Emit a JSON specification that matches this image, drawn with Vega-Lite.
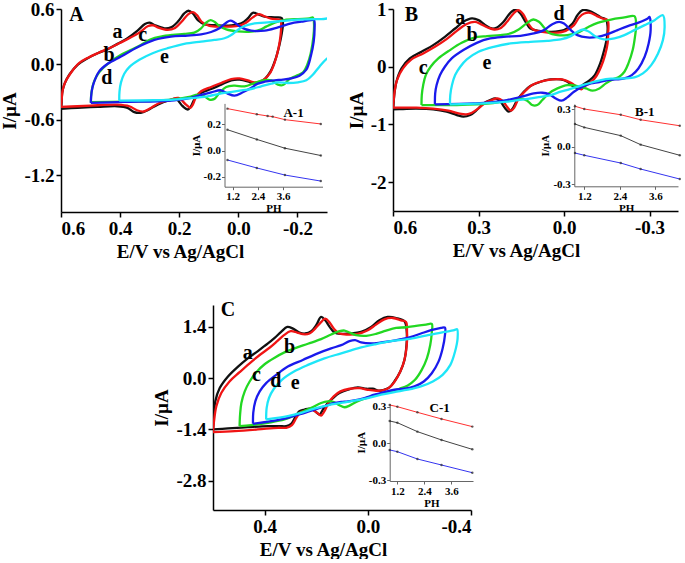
{
"$schema": "https://vega.github.io/schema/vega-lite/v6.json",
"padding": 0,
"config": {
 "font": "Liberation Serif",
 "view": {"stroke": null},
 "axis": {"grid": false, "labelFont": "Liberation Serif", "titleFont": "Liberation Serif", "labelFontWeight": "bold", "titleFontWeight": "bold", "labelFontSize": 19, "titleFontSize": 19, "labelColor": "#000", "titleColor": "#000", "domainColor": "#000", "tickColor": "#000", "domainWidth": 1.5, "tickWidth": 1.5, "tickSize": 5, "labelPadding": 2, "titlePadding": 4}
},
"datasets": {
 "cvA": [
  {"s":"a","o":1,"E":0.6,"I":-0.482},{"s":"a","o":2,"E":0.598,"I":-0.418},{"s":"a","o":3,"E":0.596,"I":-0.31},{"s":"a","o":4,"E":0.589,"I":-0.22},{"s":"a","o":5,"E":0.572,"I":-0.112},{"s":"a","o":6,"E":0.544,"I":-0.005},{"s":"a","o":7,"E":0.51,"I":0.067},{"s":"a","o":8,"E":0.476,"I":0.121},{"s":"a","o":9,"E":0.442,"I":0.164},{"s":"a","o":10,"E":0.409,"I":0.222},{"s":"a","o":11,"E":0.375,"I":0.283},{"s":"a","o":12,"E":0.341,"I":0.365},{"s":"a","o":13,"E":0.316,"I":0.437},{"s":"a","o":14,"E":0.301,"I":0.452},{"s":"a","o":15,"E":0.284,"I":0.427},{"s":"a","o":16,"E":0.25,"I":0.391},{"s":"a","o":17,"E":0.228,"I":0.401},{"s":"a","o":18,"E":0.205,"I":0.462},{"s":"a","o":19,"E":0.183,"I":0.552},{"s":"a","o":20,"E":0.169,"I":0.581},{"s":"a","o":21,"E":0.154,"I":0.552},{"s":"a","o":22,"E":0.137,"I":0.48},{"s":"a","o":23,"E":0.115,"I":0.437},{"s":"a","o":24,"E":0.07,"I":0.423},{"s":"a","o":25,"E":0.024,"I":0.423},{"s":"a","o":26,"E":-0.01,"I":0.444},{"s":"a","o":27,"E":-0.032,"I":0.498},{"s":"a","o":28,"E":-0.049,"I":0.559},{"s":"a","o":29,"E":-0.066,"I":0.545},{"s":"a","o":30,"E":-0.089,"I":0.516},{"s":"a","o":31,"E":-0.123,"I":0.509},{"s":"a","o":32,"E":-0.147,"I":0.502},{"s":"a","o":33,"E":-0.151,"I":0.444},{"s":"a","o":34,"E":-0.147,"I":0.337},{"s":"a","o":35,"E":-0.139,"I":0.211},{"s":"a","o":36,"E":-0.125,"I":0.049},{"s":"a","o":37,"E":-0.109,"I":-0.076},{"s":"a","o":38,"E":-0.089,"I":-0.159},{"s":"a","o":39,"E":-0.055,"I":-0.209},{"s":"a","o":40,"E":-0.032,"I":-0.184},{"s":"a","o":41,"E":-0.004,"I":-0.166},{"s":"a","o":42,"E":0.024,"I":-0.173},{"s":"a","o":43,"E":0.058,"I":-0.22},{"s":"a","o":44,"E":0.092,"I":-0.267},{"s":"a","o":45,"E":0.126,"I":-0.31},{"s":"a","o":46,"E":0.149,"I":-0.382},{"s":"a","o":47,"E":0.16,"I":-0.454},{"s":"a","o":48,"E":0.171,"I":-0.489},{"s":"a","o":49,"E":0.188,"I":-0.454},{"s":"a","o":50,"E":0.211,"I":-0.374},{"s":"a","o":51,"E":0.233,"I":-0.389},{"s":"a","o":52,"E":0.273,"I":-0.436},{"s":"a","o":53,"E":0.307,"I":-0.497},{"s":"a","o":54,"E":0.33,"I":-0.525},{"s":"a","o":55,"E":0.352,"I":-0.518},{"s":"a","o":56,"E":0.375,"I":-0.471},{"s":"a","o":57,"E":0.409,"I":-0.454},{"s":"a","o":58,"E":0.476,"I":-0.461},{"s":"a","o":59,"E":0.544,"I":-0.471},{"s":"a","o":60,"E":0.6,"I":-0.482},
  {"s":"b","o":1,"E":0.6,"I":-0.461},{"s":"b","o":2,"E":0.598,"I":-0.4},{"s":"b","o":3,"E":0.595,"I":-0.292},{"s":"b","o":4,"E":0.587,"I":-0.202},{"s":"b","o":5,"E":0.567,"I":-0.094},{"s":"b","o":6,"E":0.539,"I":0.013},{"s":"b","o":7,"E":0.505,"I":0.078},{"s":"b","o":8,"E":0.471,"I":0.128},{"s":"b","o":9,"E":0.437,"I":0.175},{"s":"b","o":10,"E":0.403,"I":0.229},{"s":"b","o":11,"E":0.369,"I":0.283},{"s":"b","o":12,"E":0.335,"I":0.344},{"s":"b","o":13,"E":0.305,"I":0.416},{"s":"b","o":14,"E":0.288,"I":0.423},{"s":"b","o":15,"E":0.273,"I":0.401},{"s":"b","o":16,"E":0.239,"I":0.373},{"s":"b","o":17,"E":0.214,"I":0.394},{"s":"b","o":18,"E":0.192,"I":0.462},{"s":"b","o":19,"E":0.169,"I":0.545},{"s":"b","o":20,"E":0.154,"I":0.567},{"s":"b","o":21,"E":0.14,"I":0.534},{"s":"b","o":22,"E":0.124,"I":0.462},{"s":"b","o":23,"E":0.098,"I":0.416},{"s":"b","o":24,"E":0.047,"I":0.409},{"s":"b","o":25,"E":0.002,"I":0.416},{"s":"b","o":26,"E":-0.026,"I":0.452},{"s":"b","o":27,"E":-0.049,"I":0.509},{"s":"b","o":28,"E":-0.069,"I":0.545},{"s":"b","o":29,"E":-0.086,"I":0.524},{"s":"b","o":30,"E":-0.111,"I":0.495},{"s":"b","o":31,"E":-0.143,"I":0.48},{"s":"b","o":32,"E":-0.145,"I":0.444},{"s":"b","o":33,"E":-0.143,"I":0.319},{"s":"b","o":34,"E":-0.136,"I":0.175},{"s":"b","o":35,"E":-0.123,"I":0.021},{"s":"b","o":36,"E":-0.106,"I":-0.101},{"s":"b","o":37,"E":-0.083,"I":-0.173},{"s":"b","o":38,"E":-0.055,"I":-0.195},{"s":"b","o":39,"E":-0.032,"I":-0.173},{"s":"b","o":40,"E":-0.004,"I":-0.152},{"s":"b","o":41,"E":0.024,"I":-0.159},{"s":"b","o":42,"E":0.058,"I":-0.202},{"s":"b","o":43,"E":0.092,"I":-0.245},{"s":"b","o":44,"E":0.126,"I":-0.292},{"s":"b","o":45,"E":0.143,"I":-0.353},{"s":"b","o":46,"E":0.154,"I":-0.436},{"s":"b","o":47,"E":0.162,"I":-0.471},{"s":"b","o":48,"E":0.177,"I":-0.436},{"s":"b","o":49,"E":0.203,"I":-0.364},{"s":"b","o":50,"E":0.228,"I":-0.382},{"s":"b","o":51,"E":0.267,"I":-0.418},{"s":"b","o":52,"E":0.301,"I":-0.482},{"s":"b","o":53,"E":0.32,"I":-0.511},{"s":"b","o":54,"E":0.343,"I":-0.497},{"s":"b","o":55,"E":0.369,"I":-0.454},{"s":"b","o":56,"E":0.409,"I":-0.436},{"s":"b","o":57,"E":0.476,"I":-0.443},{"s":"b","o":58,"E":0.544,"I":-0.454},{"s":"b","o":59,"E":0.6,"I":-0.461},
  {"s":"c","o":1,"E":0.499,"I":-0.41},{"s":"c","o":2,"E":0.497,"I":-0.303},{"s":"c","o":3,"E":0.488,"I":-0.184},{"s":"c","o":4,"E":0.471,"I":-0.087},{"s":"c","o":5,"E":0.442,"I":0.006},{"s":"c","o":6,"E":0.397,"I":0.103},{"s":"c","o":7,"E":0.363,"I":0.157},{"s":"c","o":8,"E":0.33,"I":0.211},{"s":"c","o":9,"E":0.296,"I":0.272},{"s":"c","o":10,"E":0.262,"I":0.301},{"s":"c","o":11,"E":0.222,"I":0.319},{"s":"c","o":12,"E":0.183,"I":0.33},{"s":"c","o":13,"E":0.149,"I":0.344},{"s":"c","o":14,"E":0.126,"I":0.391},{"s":"c","o":15,"E":0.109,"I":0.452},{"s":"c","o":16,"E":0.094,"I":0.48},{"s":"c","o":17,"E":0.081,"I":0.462},{"s":"c","o":18,"E":0.064,"I":0.416},{"s":"c","o":19,"E":0.041,"I":0.38},{"s":"c","o":20,"E":0.002,"I":0.358},{"s":"c","o":21,"E":-0.043,"I":0.355},{"s":"c","o":22,"E":-0.072,"I":0.373},{"s":"c","o":23,"E":-0.094,"I":0.409},{"s":"c","o":24,"E":-0.123,"I":0.452},{"s":"c","o":25,"E":-0.156,"I":0.48},{"s":"c","o":26,"E":-0.202,"I":0.491},{"s":"c","o":27,"E":-0.241,"I":0.498},{"s":"c","o":28,"E":-0.252,"I":0.509},{"s":"c","o":29,"E":-0.256,"I":0.444},{"s":"c","o":30,"E":-0.254,"I":0.301},{"s":"c","o":31,"E":-0.245,"I":0.121},{"s":"c","o":32,"E":-0.233,"I":-0.005},{"s":"c","o":33,"E":-0.219,"I":-0.087},{"s":"c","o":34,"E":-0.196,"I":-0.123},{"s":"c","o":35,"E":-0.173,"I":-0.159},{"s":"c","o":36,"E":-0.151,"I":-0.224},{"s":"c","o":37,"E":-0.134,"I":-0.22},{"s":"c","o":38,"E":-0.111,"I":-0.173},{"s":"c","o":39,"E":-0.083,"I":-0.173},{"s":"c","o":40,"E":-0.055,"I":-0.202},{"s":"c","o":41,"E":-0.021,"I":-0.238},{"s":"c","o":42,"E":0.013,"I":-0.231},{"s":"c","o":43,"E":0.041,"I":-0.245},{"s":"c","o":44,"E":0.064,"I":-0.31},{"s":"c","o":45,"E":0.081,"I":-0.374},{"s":"c","o":46,"E":0.098,"I":-0.382},{"s":"c","o":47,"E":0.115,"I":-0.346},{"s":"c","o":48,"E":0.137,"I":-0.328},{"s":"c","o":49,"E":0.166,"I":-0.353},{"s":"c","o":50,"E":0.205,"I":-0.374},{"s":"c","o":51,"E":0.273,"I":-0.392},{"s":"c","o":52,"E":0.386,"I":-0.403},{"s":"c","o":53,"E":0.499,"I":-0.41},
  {"s":"d","o":1,"E":0.499,"I":-0.418},{"s":"d","o":2,"E":0.498,"I":-0.346},{"s":"d","o":3,"E":0.494,"I":-0.256},{"s":"d","o":4,"E":0.485,"I":-0.166},{"s":"d","o":5,"E":0.471,"I":-0.076},{"s":"d","o":6,"E":0.442,"I":0.006},{"s":"d","o":7,"E":0.397,"I":0.085},{"s":"d","o":8,"E":0.341,"I":0.186},{"s":"d","o":9,"E":0.284,"I":0.265},{"s":"d","o":10,"E":0.228,"I":0.301},{"s":"d","o":11,"E":0.171,"I":0.312},{"s":"d","o":12,"E":0.126,"I":0.326},{"s":"d","o":13,"E":0.092,"I":0.351},{"s":"d","o":14,"E":0.064,"I":0.391},{"s":"d","o":15,"E":0.041,"I":0.452},{"s":"d","o":16,"E":0.027,"I":0.473},{"s":"d","o":17,"E":0.013,"I":0.455},{"s":"d","o":18,"E":-0.01,"I":0.401},{"s":"d","o":19,"E":-0.043,"I":0.365},{"s":"d","o":20,"E":-0.089,"I":0.365},{"s":"d","o":21,"E":-0.134,"I":0.401},{"s":"d","o":22,"E":-0.179,"I":0.444},{"s":"d","o":23,"E":-0.213,"I":0.462},{"s":"d","o":24,"E":-0.247,"I":0.48},{"s":"d","o":25,"E":-0.256,"I":0.48},{"s":"d","o":26,"E":-0.258,"I":0.391},{"s":"d","o":27,"E":-0.255,"I":0.247},{"s":"d","o":28,"E":-0.245,"I":0.085},{"s":"d","o":29,"E":-0.23,"I":-0.058},{"s":"d","o":30,"E":-0.207,"I":-0.123},{"s":"d","o":31,"E":-0.179,"I":-0.152},{"s":"d","o":32,"E":-0.151,"I":-0.166},{"s":"d","o":33,"E":-0.123,"I":-0.173},{"s":"d","o":34,"E":-0.089,"I":-0.188},{"s":"d","o":35,"E":-0.066,"I":-0.209},{"s":"d","o":36,"E":-0.043,"I":-0.256},{"s":"d","o":37,"E":-0.015,"I":-0.303},{"s":"d","o":38,"E":0.013,"I":-0.339},{"s":"d","o":39,"E":0.036,"I":-0.317},{"s":"d","o":40,"E":0.058,"I":-0.281},{"s":"d","o":41,"E":0.092,"I":-0.303},{"s":"d","o":42,"E":0.126,"I":-0.331},{"s":"d","o":43,"E":0.16,"I":-0.364},{"s":"d","o":44,"E":0.217,"I":-0.389},{"s":"d","o":45,"E":0.273,"I":-0.4},{"s":"d","o":46,"E":0.386,"I":-0.407},{"s":"d","o":47,"E":0.499,"I":-0.418},
  {"s":"e","o":1,"E":0.403,"I":-0.392},{"s":"e","o":2,"E":0.402,"I":-0.292},{"s":"e","o":3,"E":0.397,"I":-0.195},{"s":"e","o":4,"E":0.386,"I":-0.101},{"s":"e","o":5,"E":0.369,"I":-0.03},{"s":"e","o":6,"E":0.335,"I":0.049},{"s":"e","o":7,"E":0.29,"I":0.121},{"s":"e","o":8,"E":0.239,"I":0.175},{"s":"e","o":9,"E":0.183,"I":0.222},{"s":"e","o":10,"E":0.126,"I":0.247},{"s":"e","o":11,"E":0.081,"I":0.265},{"s":"e","o":12,"E":0.047,"I":0.283},{"s":"e","o":13,"E":0.024,"I":0.319},{"s":"e","o":14,"E":0.002,"I":0.373},{"s":"e","o":15,"E":-0.021,"I":0.416},{"s":"e","o":16,"E":-0.055,"I":0.444},{"s":"e","o":17,"E":-0.089,"I":0.452},{"s":"e","o":18,"E":-0.123,"I":0.462},{"s":"e","o":19,"E":-0.179,"I":0.48},{"s":"e","o":20,"E":-0.224,"I":0.488},{"s":"e","o":21,"E":-0.281,"I":0.491},{"s":"e","o":22,"E":-0.337,"I":0.495},{"s":"e","o":23,"E":-0.362,"I":0.373},{"s":"e","o":24,"E":-0.354,"I":0.211},{"s":"e","o":25,"E":-0.326,"I":0.121},{"s":"e","o":26,"E":-0.298,"I":0.057},{"s":"e","o":27,"E":-0.275,"I":-0.022},{"s":"e","o":28,"E":-0.252,"I":-0.112},{"s":"e","o":29,"E":-0.23,"I":-0.173},{"s":"e","o":30,"E":-0.202,"I":-0.195},{"s":"e","o":31,"E":-0.168,"I":-0.202},{"s":"e","o":32,"E":-0.134,"I":-0.195},{"s":"e","o":33,"E":-0.111,"I":-0.209},{"s":"e","o":34,"E":-0.077,"I":-0.238},{"s":"e","o":35,"E":-0.043,"I":-0.267},{"s":"e","o":36,"E":-0.01,"I":-0.281},{"s":"e","o":37,"E":0.047,"I":-0.31},{"s":"e","o":38,"E":0.104,"I":-0.346},{"s":"e","o":39,"E":0.16,"I":-0.367},{"s":"e","o":40,"E":0.217,"I":-0.382},{"s":"e","o":41,"E":0.284,"I":-0.389},{"s":"e","o":42,"E":0.403,"I":-0.392}
 ],
 "cvB": [
  {"s":"a","o":1,"E":0.6,"I":-0.739},{"s":"a","o":2,"E":0.598,"I":-0.635},{"s":"a","o":3,"E":0.595,"I":-0.462},{"s":"a","o":4,"E":0.588,"I":-0.26},{"s":"a","o":5,"E":0.57,"I":-0.03},{"s":"a","o":6,"E":0.541,"I":0.143},{"s":"a","o":7,"E":0.5,"I":0.259},{"s":"a","o":8,"E":0.459,"I":0.374},{"s":"a","o":9,"E":0.418,"I":0.518},{"s":"a","o":10,"E":0.382,"I":0.662},{"s":"a","o":11,"E":0.353,"I":0.778},{"s":"a","o":12,"E":0.323,"I":0.836},{"s":"a","o":13,"E":0.3,"I":0.807},{"s":"a","o":14,"E":0.276,"I":0.72},{"s":"a","o":15,"E":0.253,"I":0.662},{"s":"a","o":16,"E":0.235,"I":0.68},{"s":"a","o":17,"E":0.212,"I":0.778},{"s":"a","o":18,"E":0.188,"I":0.934},{"s":"a","o":19,"E":0.17,"I":0.991},{"s":"a","o":20,"E":0.153,"I":0.922},{"s":"a","o":21,"E":0.135,"I":0.778},{"s":"a","o":22,"E":0.118,"I":0.662},{"s":"a","o":23,"E":0.088,"I":0.622},{"s":"a","o":24,"E":0.047,"I":0.605},{"s":"a","o":25,"E":0.0,"I":0.634},{"s":"a","o":26,"E":-0.03,"I":0.749},{"s":"a","o":27,"E":-0.047,"I":0.893},{"s":"a","o":28,"E":-0.065,"I":0.98},{"s":"a","o":29,"E":-0.088,"I":0.968},{"s":"a","o":30,"E":-0.112,"I":0.91},{"s":"a","o":31,"E":-0.13,"I":0.853},{"s":"a","o":32,"E":-0.147,"I":0.818},{"s":"a","o":33,"E":-0.153,"I":0.691},{"s":"a","o":34,"E":-0.151,"I":0.518},{"s":"a","o":35,"E":-0.141,"I":0.288},{"s":"a","o":36,"E":-0.127,"I":0.057},{"s":"a","o":37,"E":-0.108,"I":-0.145},{"s":"a","o":38,"E":-0.088,"I":-0.243},{"s":"a","o":39,"E":-0.065,"I":-0.318},{"s":"a","o":40,"E":-0.053,"I":-0.376},{"s":"a","o":41,"E":-0.035,"I":-0.347},{"s":"a","o":42,"E":-0.012,"I":-0.26},{"s":"a","o":43,"E":0.012,"I":-0.22},{"s":"a","o":44,"E":0.047,"I":-0.22},{"s":"a","o":45,"E":0.082,"I":-0.26},{"s":"a","o":46,"E":0.118,"I":-0.335},{"s":"a","o":47,"E":0.141,"I":-0.433},{"s":"a","o":48,"E":0.164,"I":-0.577},{"s":"a","o":49,"E":0.182,"I":-0.739},{"s":"a","o":50,"E":0.194,"I":-0.779},{"s":"a","o":51,"E":0.206,"I":-0.722},{"s":"a","o":52,"E":0.223,"I":-0.606},{"s":"a","o":53,"E":0.241,"I":-0.549},{"s":"a","o":54,"E":0.259,"I":-0.577},{"s":"a","o":55,"E":0.282,"I":-0.635},{"s":"a","o":56,"E":0.306,"I":-0.75},{"s":"a","o":57,"E":0.329,"I":-0.837},{"s":"a","o":58,"E":0.353,"I":-0.866},{"s":"a","o":59,"E":0.376,"I":-0.837},{"s":"a","o":60,"E":0.412,"I":-0.779},{"s":"a","o":61,"E":0.459,"I":-0.739},{"s":"a","o":62,"E":0.518,"I":-0.727},{"s":"a","o":63,"E":0.565,"I":-0.733},{"s":"a","o":64,"E":0.6,"I":-0.739},
  {"s":"b","o":1,"E":0.6,"I":-0.71},{"s":"b","o":2,"E":0.598,"I":-0.606},{"s":"b","o":3,"E":0.594,"I":-0.416},{"s":"b","o":4,"E":0.586,"I":-0.231},{"s":"b","o":5,"E":0.565,"I":-0.03},{"s":"b","o":6,"E":0.535,"I":0.126},{"s":"b","o":7,"E":0.494,"I":0.23},{"s":"b","o":8,"E":0.453,"I":0.345},{"s":"b","o":9,"E":0.412,"I":0.478},{"s":"b","o":10,"E":0.376,"I":0.622},{"s":"b","o":11,"E":0.343,"I":0.737},{"s":"b","o":12,"E":0.312,"I":0.778},{"s":"b","o":13,"E":0.292,"I":0.737},{"s":"b","o":14,"E":0.268,"I":0.68},{"s":"b","o":15,"E":0.245,"I":0.645},{"s":"b","o":16,"E":0.223,"I":0.668},{"s":"b","o":17,"E":0.2,"I":0.778},{"s":"b","o":18,"E":0.179,"I":0.91},{"s":"b","o":19,"E":0.161,"I":0.98},{"s":"b","o":20,"E":0.143,"I":0.91},{"s":"b","o":21,"E":0.127,"I":0.76},{"s":"b","o":22,"E":0.108,"I":0.645},{"s":"b","o":23,"E":0.076,"I":0.605},{"s":"b","o":24,"E":0.035,"I":0.587},{"s":"b","o":25,"E":-0.006,"I":0.622},{"s":"b","o":26,"E":-0.035,"I":0.72},{"s":"b","o":27,"E":-0.053,"I":0.853},{"s":"b","o":28,"E":-0.071,"I":0.922},{"s":"b","o":29,"E":-0.092,"I":0.934},{"s":"b","o":30,"E":-0.116,"I":0.876},{"s":"b","o":31,"E":-0.135,"I":0.836},{"s":"b","o":32,"E":-0.153,"I":0.807},{"s":"b","o":33,"E":-0.155,"I":0.576},{"s":"b","o":34,"E":-0.153,"I":0.403},{"s":"b","o":35,"E":-0.144,"I":0.201},{"s":"b","o":36,"E":-0.13,"I":-0.001},{"s":"b","o":37,"E":-0.112,"I":-0.174},{"s":"b","o":38,"E":-0.092,"I":-0.278},{"s":"b","o":39,"E":-0.074,"I":-0.335},{"s":"b","o":40,"E":-0.061,"I":-0.393},{"s":"b","o":41,"E":-0.047,"I":-0.358},{"s":"b","o":42,"E":-0.024,"I":-0.278},{"s":"b","o":43,"E":0.006,"I":-0.22},{"s":"b","o":44,"E":0.041,"I":-0.22},{"s":"b","o":45,"E":0.076,"I":-0.249},{"s":"b","o":46,"E":0.112,"I":-0.318},{"s":"b","o":47,"E":0.135,"I":-0.416},{"s":"b","o":48,"E":0.159,"I":-0.549},{"s":"b","o":49,"E":0.174,"I":-0.704},{"s":"b","o":50,"E":0.186,"I":-0.762},{"s":"b","o":51,"E":0.2,"I":-0.693},{"s":"b","o":52,"E":0.216,"I":-0.589},{"s":"b","o":53,"E":0.233,"I":-0.549},{"s":"b","o":54,"E":0.253,"I":-0.577},{"s":"b","o":55,"E":0.276,"I":-0.624},{"s":"b","o":56,"E":0.3,"I":-0.722},{"s":"b","o":57,"E":0.323,"I":-0.797},{"s":"b","o":58,"E":0.343,"I":-0.825},{"s":"b","o":59,"E":0.37,"I":-0.808},{"s":"b","o":60,"E":0.406,"I":-0.762},{"s":"b","o":61,"E":0.459,"I":-0.727},{"s":"b","o":62,"E":0.518,"I":-0.71},{"s":"b","o":63,"E":0.565,"I":-0.71},{"s":"b","o":64,"E":0.6,"I":-0.71},
  {"s":"c","o":1,"E":0.5,"I":-0.664},{"s":"c","o":2,"E":0.499,"I":-0.491},{"s":"c","o":3,"E":0.494,"I":-0.318},{"s":"c","o":4,"E":0.485,"I":-0.145},{"s":"c","o":5,"E":0.468,"I":-0.001},{"s":"c","o":6,"E":0.441,"I":0.143},{"s":"c","o":7,"E":0.4,"I":0.288},{"s":"c","o":8,"E":0.359,"I":0.414},{"s":"c","o":9,"E":0.317,"I":0.501},{"s":"c","o":10,"E":0.27,"I":0.53},{"s":"c","o":11,"E":0.223,"I":0.547},{"s":"c","o":12,"E":0.188,"I":0.576},{"s":"c","o":13,"E":0.159,"I":0.645},{"s":"c","o":14,"E":0.129,"I":0.76},{"s":"c","o":15,"E":0.108,"I":0.818},{"s":"c","o":16,"E":0.088,"I":0.778},{"s":"c","o":17,"E":0.07,"I":0.68},{"s":"c","o":18,"E":0.053,"I":0.587},{"s":"c","o":19,"E":0.023,"I":0.547},{"s":"c","o":20,"E":-0.012,"I":0.547},{"s":"c","o":21,"E":-0.047,"I":0.587},{"s":"c","o":22,"E":-0.082,"I":0.68},{"s":"c","o":23,"E":-0.118,"I":0.76},{"s":"c","o":24,"E":-0.165,"I":0.818},{"s":"c","o":25,"E":-0.212,"I":0.853},{"s":"c","o":26,"E":-0.247,"I":0.876},{"s":"c","o":27,"E":-0.253,"I":0.72},{"s":"c","o":28,"E":-0.249,"I":0.518},{"s":"c","o":29,"E":-0.241,"I":0.288},{"s":"c","o":30,"E":-0.226,"I":0.057},{"s":"c","o":31,"E":-0.212,"I":-0.087},{"s":"c","o":32,"E":-0.194,"I":-0.174},{"s":"c","o":33,"E":-0.171,"I":-0.22},{"s":"c","o":34,"E":-0.147,"I":-0.289},{"s":"c","o":35,"E":-0.124,"I":-0.376},{"s":"c","o":36,"E":-0.1,"I":-0.416},{"s":"c","o":37,"E":-0.077,"I":-0.376},{"s":"c","o":38,"E":-0.047,"I":-0.335},{"s":"c","o":39,"E":-0.012,"I":-0.318},{"s":"c","o":40,"E":0.023,"I":-0.376},{"s":"c","o":41,"E":0.053,"I":-0.462},{"s":"c","o":42,"E":0.076,"I":-0.577},{"s":"c","o":43,"E":0.094,"I":-0.664},{"s":"c","o":44,"E":0.112,"I":-0.664},{"s":"c","o":45,"E":0.129,"I":-0.589},{"s":"c","o":46,"E":0.153,"I":-0.549},{"s":"c","o":47,"E":0.188,"I":-0.577},{"s":"c","o":48,"E":0.259,"I":-0.635},{"s":"c","o":49,"E":0.376,"I":-0.664},{"s":"c","o":50,"E":0.5,"I":-0.664},
  {"s":"d","o":1,"E":0.453,"I":-0.652},{"s":"d","o":2,"E":0.452,"I":-0.462},{"s":"d","o":3,"E":0.447,"I":-0.318},{"s":"d","o":4,"E":0.435,"I":-0.145},{"s":"d","o":5,"E":0.418,"I":-0.001},{"s":"d","o":6,"E":0.394,"I":0.143},{"s":"d","o":7,"E":0.353,"I":0.288},{"s":"d","o":8,"E":0.306,"I":0.414},{"s":"d","o":9,"E":0.259,"I":0.489},{"s":"d","o":10,"E":0.212,"I":0.518},{"s":"d","o":11,"E":0.153,"I":0.536},{"s":"d","o":12,"E":0.106,"I":0.576},{"s":"d","o":13,"E":0.07,"I":0.634},{"s":"d","o":14,"E":0.041,"I":0.737},{"s":"d","o":15,"E":0.017,"I":0.778},{"s":"d","o":16,"E":0.0,"I":0.749},{"s":"d","o":17,"E":-0.024,"I":0.634},{"s":"d","o":18,"E":-0.047,"I":0.547},{"s":"d","o":19,"E":-0.082,"I":0.507},{"s":"d","o":20,"E":-0.118,"I":0.518},{"s":"d","o":21,"E":-0.153,"I":0.564},{"s":"d","o":22,"E":-0.188,"I":0.634},{"s":"d","o":23,"E":-0.224,"I":0.703},{"s":"d","o":24,"E":-0.259,"I":0.76},{"s":"d","o":25,"E":-0.294,"I":0.836},{"s":"d","o":26,"E":-0.3,"I":0.864},{"s":"d","o":27,"E":-0.304,"I":0.634},{"s":"d","o":28,"E":-0.297,"I":0.403},{"s":"d","o":29,"E":-0.283,"I":0.172},{"s":"d","o":30,"E":-0.261,"I":-0.03},{"s":"d","o":31,"E":-0.238,"I":-0.145},{"s":"d","o":32,"E":-0.212,"I":-0.203},{"s":"d","o":33,"E":-0.182,"I":-0.22},{"s":"d","o":34,"E":-0.153,"I":-0.231},{"s":"d","o":35,"E":-0.124,"I":-0.266},{"s":"d","o":36,"E":-0.094,"I":-0.289},{"s":"d","o":37,"E":-0.065,"I":-0.347},{"s":"d","o":38,"E":-0.035,"I":-0.433},{"s":"d","o":39,"E":-0.012,"I":-0.531},{"s":"d","o":40,"E":0.009,"I":-0.589},{"s":"d","o":41,"E":0.029,"I":-0.549},{"s":"d","o":42,"E":0.053,"I":-0.474},{"s":"d","o":43,"E":0.076,"I":-0.451},{"s":"d","o":44,"E":0.106,"I":-0.462},{"s":"d","o":45,"E":0.141,"I":-0.508},{"s":"d","o":46,"E":0.2,"I":-0.577},{"s":"d","o":47,"E":0.259,"I":-0.618},{"s":"d","o":48,"E":0.317,"I":-0.635},{"s":"d","o":49,"E":0.453,"I":-0.652},
  {"s":"e","o":1,"E":0.4,"I":-0.652},{"s":"e","o":2,"E":0.399,"I":-0.491},{"s":"e","o":3,"E":0.393,"I":-0.318},{"s":"e","o":4,"E":0.382,"I":-0.145},{"s":"e","o":5,"E":0.364,"I":-0.001},{"s":"e","o":6,"E":0.341,"I":0.126},{"s":"e","o":7,"E":0.3,"I":0.259},{"s":"e","o":8,"E":0.247,"I":0.345},{"s":"e","o":9,"E":0.188,"I":0.403},{"s":"e","o":10,"E":0.118,"I":0.432},{"s":"e","o":11,"E":0.059,"I":0.449},{"s":"e","o":12,"E":0.012,"I":0.472},{"s":"e","o":13,"E":-0.024,"I":0.53},{"s":"e","o":14,"E":-0.047,"I":0.605},{"s":"e","o":15,"E":-0.068,"I":0.645},{"s":"e","o":16,"E":-0.088,"I":0.605},{"s":"e","o":17,"E":-0.112,"I":0.518},{"s":"e","o":18,"E":-0.141,"I":0.472},{"s":"e","o":19,"E":-0.177,"I":0.489},{"s":"e","o":20,"E":-0.212,"I":0.547},{"s":"e","o":21,"E":-0.247,"I":0.634},{"s":"e","o":22,"E":-0.283,"I":0.72},{"s":"e","o":23,"E":-0.318,"I":0.807},{"s":"e","o":24,"E":-0.347,"I":0.893},{"s":"e","o":25,"E":-0.353,"I":0.691},{"s":"e","o":26,"E":-0.347,"I":0.461},{"s":"e","o":27,"E":-0.33,"I":0.23},{"s":"e","o":28,"E":-0.306,"I":0.028},{"s":"e","o":29,"E":-0.277,"I":-0.116},{"s":"e","o":30,"E":-0.247,"I":-0.185},{"s":"e","o":31,"E":-0.212,"I":-0.203},{"s":"e","o":32,"E":-0.165,"I":-0.208},{"s":"e","o":33,"E":-0.13,"I":-0.231},{"s":"e","o":34,"E":-0.094,"I":-0.278},{"s":"e","o":35,"E":-0.065,"I":-0.318},{"s":"e","o":36,"E":-0.041,"I":-0.358},{"s":"e","o":37,"E":-0.018,"I":-0.393},{"s":"e","o":38,"E":0.012,"I":-0.433},{"s":"e","o":39,"E":0.047,"I":-0.491},{"s":"e","o":40,"E":0.094,"I":-0.531},{"s":"e","o":41,"E":0.141,"I":-0.566},{"s":"e","o":42,"E":0.2,"I":-0.606},{"s":"e","o":43,"E":0.282,"I":-0.635},{"s":"e","o":44,"E":0.4,"I":-0.652}
 ],
 "cvC": [
  {"s":"a","o":1,"E":0.6,"I":-1.399},{"s":"a","o":2,"E":0.597,"I":-1.083},{"s":"a","o":3,"E":0.591,"I":-0.631},{"s":"a","o":4,"E":0.574,"I":-0.27},{"s":"a","o":5,"E":0.542,"I":0.047},{"s":"a","o":6,"E":0.503,"I":0.318},{"s":"a","o":7,"E":0.465,"I":0.543},{"s":"a","o":8,"E":0.426,"I":0.742},{"s":"a","o":9,"E":0.387,"I":0.95},{"s":"a","o":10,"E":0.361,"I":1.103},{"s":"a","o":11,"E":0.336,"I":1.266},{"s":"a","o":12,"E":0.312,"I":1.402},{"s":"a","o":13,"E":0.29,"I":1.356},{"s":"a","o":14,"E":0.265,"I":1.248},{"s":"a","o":15,"E":0.243,"I":1.221},{"s":"a","o":16,"E":0.219,"I":1.284},{"s":"a","o":17,"E":0.2,"I":1.447},{"s":"a","o":18,"E":0.181,"I":1.673},{"s":"a","o":19,"E":0.165,"I":1.582},{"s":"a","o":20,"E":0.148,"I":1.402},{"s":"a","o":21,"E":0.129,"I":1.248},{"s":"a","o":22,"E":0.103,"I":1.212},{"s":"a","o":23,"E":0.065,"I":1.221},{"s":"a","o":24,"E":0.026,"I":1.266},{"s":"a","o":25,"E":-0.013,"I":1.402},{"s":"a","o":26,"E":-0.045,"I":1.582},{"s":"a","o":27,"E":-0.077,"I":1.673},{"s":"a","o":28,"E":-0.11,"I":1.645},{"s":"a","o":29,"E":-0.142,"I":1.555},{"s":"a","o":30,"E":-0.151,"I":1.266},{"s":"a","o":31,"E":-0.15,"I":0.905},{"s":"a","o":32,"E":-0.142,"I":0.498},{"s":"a","o":33,"E":-0.126,"I":0.182},{"s":"a","o":34,"E":-0.103,"I":-0.089},{"s":"a","o":35,"E":-0.084,"I":-0.252},{"s":"a","o":36,"E":-0.064,"I":-0.315},{"s":"a","o":37,"E":-0.045,"I":-0.342},{"s":"a","o":38,"E":-0.019,"I":-0.288},{"s":"a","o":39,"E":0.006,"I":-0.288},{"s":"a","o":40,"E":0.039,"I":-0.252},{"s":"a","o":41,"E":0.077,"I":-0.315},{"s":"a","o":42,"E":0.11,"I":-0.405},{"s":"a","o":43,"E":0.135,"I":-0.541},{"s":"a","o":44,"E":0.155,"I":-0.676},{"s":"a","o":45,"E":0.174,"I":-0.857},{"s":"a","o":46,"E":0.187,"I":-0.992},{"s":"a","o":47,"E":0.204,"I":-0.902},{"s":"a","o":48,"E":0.226,"I":-0.83},{"s":"a","o":49,"E":0.245,"I":-0.857},{"s":"a","o":50,"E":0.265,"I":-0.902},{"s":"a","o":51,"E":0.281,"I":-1.064},{"s":"a","o":52,"E":0.297,"I":-1.245},{"s":"a","o":53,"E":0.316,"I":-1.309},{"s":"a","o":54,"E":0.342,"I":-1.309},{"s":"a","o":55,"E":0.387,"I":-1.309},{"s":"a","o":56,"E":0.465,"I":-1.336},{"s":"a","o":57,"E":0.542,"I":-1.372},{"s":"a","o":58,"E":0.6,"I":-1.399},
  {"s":"b","o":1,"E":0.6,"I":-1.471},{"s":"b","o":2,"E":0.596,"I":-1.173},{"s":"b","o":3,"E":0.587,"I":-0.766},{"s":"b","o":4,"E":0.568,"I":-0.405},{"s":"b","o":5,"E":0.536,"I":-0.089},{"s":"b","o":6,"E":0.497,"I":0.164},{"s":"b","o":7,"E":0.458,"I":0.408},{"s":"b","o":8,"E":0.419,"I":0.634},{"s":"b","o":9,"E":0.381,"I":0.832},{"s":"b","o":10,"E":0.351,"I":1.013},{"s":"b","o":11,"E":0.325,"I":1.176},{"s":"b","o":12,"E":0.299,"I":1.284},{"s":"b","o":13,"E":0.274,"I":1.248},{"s":"b","o":14,"E":0.252,"I":1.203},{"s":"b","o":15,"E":0.226,"I":1.221},{"s":"b","o":16,"E":0.204,"I":1.356},{"s":"b","o":17,"E":0.183,"I":1.519},{"s":"b","o":18,"E":0.165,"I":1.627},{"s":"b","o":19,"E":0.148,"I":1.519},{"s":"b","o":20,"E":0.132,"I":1.356},{"s":"b","o":21,"E":0.11,"I":1.221},{"s":"b","o":22,"E":0.077,"I":1.194},{"s":"b","o":23,"E":0.039,"I":1.212},{"s":"b","o":24,"E":0.0,"I":1.311},{"s":"b","o":25,"E":-0.032,"I":1.465},{"s":"b","o":26,"E":-0.064,"I":1.609},{"s":"b","o":27,"E":-0.097,"I":1.645},{"s":"b","o":28,"E":-0.129,"I":1.582},{"s":"b","o":29,"E":-0.148,"I":1.537},{"s":"b","o":30,"E":-0.152,"I":1.266},{"s":"b","o":31,"E":-0.151,"I":0.905},{"s":"b","o":32,"E":-0.142,"I":0.498},{"s":"b","o":33,"E":-0.126,"I":0.182},{"s":"b","o":34,"E":-0.106,"I":-0.071},{"s":"b","o":35,"E":-0.084,"I":-0.252},{"s":"b","o":36,"E":-0.062,"I":-0.324},{"s":"b","o":37,"E":-0.032,"I":-0.342},{"s":"b","o":38,"E":0.0,"I":-0.315},{"s":"b","o":39,"E":0.032,"I":-0.27},{"s":"b","o":40,"E":0.071,"I":-0.288},{"s":"b","o":41,"E":0.106,"I":-0.36},{"s":"b","o":42,"E":0.132,"I":-0.495},{"s":"b","o":43,"E":0.152,"I":-0.676},{"s":"b","o":44,"E":0.168,"I":-0.902},{"s":"b","o":45,"E":0.181,"I":-1.019},{"s":"b","o":46,"E":0.196,"I":-0.947},{"s":"b","o":47,"E":0.217,"I":-0.857},{"s":"b","o":48,"E":0.239,"I":-0.884},{"s":"b","o":49,"E":0.261,"I":-0.929},{"s":"b","o":50,"E":0.277,"I":-1.083},{"s":"b","o":51,"E":0.294,"I":-1.281},{"s":"b","o":52,"E":0.316,"I":-1.354},{"s":"b","o":53,"E":0.348,"I":-1.354},{"s":"b","o":54,"E":0.426,"I":-1.399},{"s":"b","o":55,"E":0.516,"I":-1.444},{"s":"b","o":56,"E":0.6,"I":-1.471},
  {"s":"c","o":1,"E":0.497,"I":-1.309},{"s":"c","o":2,"E":0.495,"I":-0.992},{"s":"c","o":3,"E":0.49,"I":-0.676},{"s":"c","o":4,"E":0.477,"I":-0.36},{"s":"c","o":5,"E":0.458,"I":-0.089},{"s":"c","o":6,"E":0.432,"I":0.164},{"s":"c","o":7,"E":0.4,"I":0.381},{"s":"c","o":8,"E":0.361,"I":0.561},{"s":"c","o":9,"E":0.323,"I":0.706},{"s":"c","o":10,"E":0.284,"I":0.814},{"s":"c","o":11,"E":0.232,"I":0.941},{"s":"c","o":12,"E":0.181,"I":1.067},{"s":"c","o":13,"E":0.142,"I":1.194},{"s":"c","o":14,"E":0.11,"I":1.284},{"s":"c","o":15,"E":0.09,"I":1.302},{"s":"c","o":16,"E":0.071,"I":1.248},{"s":"c","o":17,"E":0.045,"I":1.176},{"s":"c","o":18,"E":0.006,"I":1.158},{"s":"c","o":19,"E":-0.032,"I":1.212},{"s":"c","o":20,"E":-0.071,"I":1.302},{"s":"c","o":21,"E":-0.11,"I":1.374},{"s":"c","o":22,"E":-0.148,"I":1.392},{"s":"c","o":23,"E":-0.187,"I":1.429},{"s":"c","o":24,"E":-0.226,"I":1.465},{"s":"c","o":25,"E":-0.248,"I":1.483},{"s":"c","o":26,"E":-0.248,"I":1.248},{"s":"c","o":27,"E":-0.242,"I":0.905},{"s":"c","o":28,"E":-0.229,"I":0.543},{"s":"c","o":29,"E":-0.209,"I":0.227},{"s":"c","o":30,"E":-0.183,"I":-0.044},{"s":"c","o":31,"E":-0.155,"I":-0.197},{"s":"c","o":32,"E":-0.123,"I":-0.288},{"s":"c","o":33,"E":-0.09,"I":-0.36},{"s":"c","o":34,"E":-0.058,"I":-0.414},{"s":"c","o":35,"E":-0.026,"I":-0.468},{"s":"c","o":36,"E":0.013,"I":-0.559},{"s":"c","o":37,"E":0.045,"I":-0.649},{"s":"c","o":38,"E":0.071,"I":-0.748},{"s":"c","o":39,"E":0.09,"I":-0.793},{"s":"c","o":40,"E":0.11,"I":-0.739},{"s":"c","o":41,"E":0.132,"I":-0.649},{"s":"c","o":42,"E":0.155,"I":-0.631},{"s":"c","o":43,"E":0.181,"I":-0.676},{"s":"c","o":44,"E":0.219,"I":-0.811},{"s":"c","o":45,"E":0.271,"I":-0.974},{"s":"c","o":46,"E":0.323,"I":-1.128},{"s":"c","o":47,"E":0.387,"I":-1.218},{"s":"c","o":48,"E":0.452,"I":-1.281},{"s":"c","o":49,"E":0.497,"I":-1.309},
  {"s":"d","o":1,"E":0.445,"I":-1.245},{"s":"d","o":2,"E":0.444,"I":-0.947},{"s":"d","o":3,"E":0.436,"I":-0.631},{"s":"d","o":4,"E":0.419,"I":-0.36},{"s":"d","o":5,"E":0.394,"I":-0.134},{"s":"d","o":6,"E":0.355,"I":0.092},{"s":"d","o":7,"E":0.31,"I":0.318},{"s":"d","o":8,"E":0.252,"I":0.498},{"s":"d","o":9,"E":0.194,"I":0.679},{"s":"d","o":10,"E":0.142,"I":0.814},{"s":"d","o":11,"E":0.103,"I":0.905},{"s":"d","o":12,"E":0.071,"I":1.013},{"s":"d","o":13,"E":0.049,"I":1.04},{"s":"d","o":14,"E":0.026,"I":0.977},{"s":"d","o":15,"E":-0.013,"I":0.95},{"s":"d","o":16,"E":-0.052,"I":0.977},{"s":"d","o":17,"E":-0.09,"I":1.013},{"s":"d","o":18,"E":-0.129,"I":1.067},{"s":"d","o":19,"E":-0.168,"I":1.131},{"s":"d","o":20,"E":-0.206,"I":1.221},{"s":"d","o":21,"E":-0.245,"I":1.311},{"s":"d","o":22,"E":-0.284,"I":1.374},{"s":"d","o":23,"E":-0.299,"I":1.383},{"s":"d","o":24,"E":-0.299,"I":1.176},{"s":"d","o":25,"E":-0.29,"I":0.814},{"s":"d","o":26,"E":-0.274,"I":0.453},{"s":"d","o":27,"E":-0.248,"I":0.137},{"s":"d","o":28,"E":-0.217,"I":-0.089},{"s":"d","o":29,"E":-0.181,"I":-0.224},{"s":"d","o":30,"E":-0.142,"I":-0.288},{"s":"d","o":31,"E":-0.103,"I":-0.315},{"s":"d","o":32,"E":-0.064,"I":-0.378},{"s":"d","o":33,"E":-0.026,"I":-0.45},{"s":"d","o":34,"E":0.013,"I":-0.541},{"s":"d","o":35,"E":0.052,"I":-0.604},{"s":"d","o":36,"E":0.077,"I":-0.631},{"s":"d","o":37,"E":0.103,"I":-0.649},{"s":"d","o":38,"E":0.129,"I":-0.676},{"s":"d","o":39,"E":0.168,"I":-0.766},{"s":"d","o":40,"E":0.207,"I":-0.857},{"s":"d","o":41,"E":0.258,"I":-0.974},{"s":"d","o":42,"E":0.31,"I":-1.083},{"s":"d","o":43,"E":0.374,"I":-1.173},{"s":"d","o":44,"E":0.445,"I":-1.245},
  {"s":"e","o":1,"E":0.394,"I":-1.128},{"s":"e","o":2,"E":0.392,"I":-0.811},{"s":"e","o":3,"E":0.383,"I":-0.541},{"s":"e","o":4,"E":0.364,"I":-0.288},{"s":"e","o":5,"E":0.333,"I":-0.044},{"s":"e","o":6,"E":0.286,"I":0.182},{"s":"e","o":7,"E":0.232,"I":0.363},{"s":"e","o":8,"E":0.168,"I":0.543},{"s":"e","o":9,"E":0.103,"I":0.679},{"s":"e","o":10,"E":0.039,"I":0.814},{"s":"e","o":11,"E":-0.026,"I":0.923},{"s":"e","o":12,"E":-0.09,"I":1.013},{"s":"e","o":13,"E":-0.155,"I":1.067},{"s":"e","o":14,"E":-0.219,"I":1.158},{"s":"e","o":15,"E":-0.284,"I":1.248},{"s":"e","o":16,"E":-0.335,"I":1.311},{"s":"e","o":17,"E":-0.346,"I":1.338},{"s":"e","o":18,"E":-0.348,"I":1.085},{"s":"e","o":19,"E":-0.338,"I":0.724},{"s":"e","o":20,"E":-0.32,"I":0.363},{"s":"e","o":21,"E":-0.29,"I":0.092},{"s":"e","o":22,"E":-0.252,"I":-0.089},{"s":"e","o":23,"E":-0.206,"I":-0.224},{"s":"e","o":24,"E":-0.155,"I":-0.315},{"s":"e","o":25,"E":-0.103,"I":-0.378},{"s":"e","o":26,"E":-0.052,"I":-0.45},{"s":"e","o":27,"E":0.0,"I":-0.541},{"s":"e","o":28,"E":0.052,"I":-0.613},{"s":"e","o":29,"E":0.103,"I":-0.676},{"s":"e","o":30,"E":0.155,"I":-0.739},{"s":"e","o":31,"E":0.207,"I":-0.83},{"s":"e","o":32,"E":0.258,"I":-0.947},{"s":"e","o":33,"E":0.31,"I":-1.037},{"s":"e","o":34,"E":0.394,"I":-1.128}
 ],
 "lblA": [{"t":"A","E":0.548,"I":0.534},{"t":"a","E":0.409,"I":0.355},{"t":"c","E":0.324,"I":0.319},{"t":"b","E":0.437,"I":0.103},{"t":"d","E":0.445,"I":-0.148},{"t":"e","E":0.25,"I":0.078}],
 "lblB": [{"t":"B","E":0.535,"I":0.893},{"t":"a","E":0.364,"I":0.836},{"t":"b","E":0.323,"I":0.547},{"t":"c","E":0.494,"I":-0.03},{"t":"d","E":0.017,"I":0.91},{"t":"e","E":0.27,"I":0.057}],
 "lblC": [{"t":"C","E":0.542,"I":1.853},{"t":"a","E":0.465,"I":0.679},{"t":"b","E":0.303,"I":0.859},{"t":"c","E":0.432,"I":0.092},{"t":"d","E":0.357,"I":-0.089},{"t":"e","E":0.281,"I":-0.134}],
 "inA": [
  {"s":"r","pH":0.96,"I":0.32},{"s":"r","pH":2.35,"I":0.277},{"s":"r","pH":2.86,"I":0.264},{"s":"r","pH":3.1,"I":0.259},{"s":"r","pH":3.68,"I":0.236},{"s":"r","pH":5.38,"I":0.203},
  {"s":"k","pH":0.96,"I":0.159},{"s":"k","pH":2.35,"I":0.085},{"s":"k","pH":3.68,"I":0.018},{"s":"k","pH":5.38,"I":-0.038},
  {"s":"b","pH":0.96,"I":-0.072},{"s":"b","pH":2.35,"I":-0.133},{"s":"b","pH":3.68,"I":-0.187},{"s":"b","pH":5.38,"I":-0.233}
 ],
 "inB": [
  {"s":"r","pH":0.887,"I":0.322},{"s":"r","pH":1.2,"I":0.3},{"s":"r","pH":2.43,"I":0.254},{"s":"r","pH":3.1,"I":0.214},{"s":"r","pH":4.42,"I":0.166},
  {"s":"k","pH":0.887,"I":0.18},{"s":"k","pH":1.2,"I":0.153},{"s":"k","pH":2.43,"I":0.087},{"s":"k","pH":3.1,"I":0.015},{"s":"k","pH":4.42,"I":-0.07},
  {"s":"b","pH":0.887,"I":-0.052},{"s":"b","pH":1.2,"I":-0.07},{"s":"b","pH":2.43,"I":-0.132},{"s":"b","pH":3.1,"I":-0.18},{"s":"b","pH":4.42,"I":-0.26}
 ],
 "inC": [
  {"s":"r","pH":0.86,"I":0.314},{"s":"r","pH":1.2,"I":0.3},{"s":"r","pH":2.09,"I":0.254},{"s":"r","pH":3.16,"I":0.2},{"s":"r","pH":4.53,"I":0.137},
  {"s":"k","pH":0.86,"I":0.183},{"s":"k","pH":1.2,"I":0.169},{"s":"k","pH":2.09,"I":0.096},{"s":"k","pH":3.16,"I":0.028},{"s":"k","pH":4.53,"I":-0.049},
  {"s":"b","pH":0.86,"I":-0.054},{"s":"b","pH":1.2,"I":-0.068},{"s":"b","pH":2.09,"I":-0.128},{"s":"b","pH":3.16,"I":-0.177},{"s":"b","pH":4.53,"I":-0.24}
 ],
 "tA": [{"t":"A-1","pH":4.09,"I":0.29}],
 "tB": [{"t":"B-1","pH":3.24,"I":0.28}],
 "tC": [{"t":"C-1","pH":3.08,"I":0.286}]
},
"spacing": 39,
"vconcat": [
 {"hconcat": [
  {"width": 266, "height": 203,
   "layer": [
    {"layer": [
      {"data": {"name": "cvA"}, "mark": {"type": "line", "interpolate": "catmull-rom", "strokeWidth": 2.3, "clip": true},
       "encoding": {
        "x": {"field": "E", "type": "quantitative", "scale": {"domain": [-0.3, 0.6], "reverse": true, "nice": false, "zero": false},
              "axis": {"values": [0.6, 0.4, 0.2, 0, -0.2], "labelExpr": "datum.value < 0 ? '-' + format(-datum.value, '.1f') : format(datum.value, '.1f')", "title": "E/V vs Ag/AgCl", "titleX": 119}},
        "y": {"field": "I", "type": "quantitative", "scale": {"domain": [-1.6, 0.6], "nice": false, "zero": false},
              "axis": {"values": [0.6, 0, -0.6, -1.2], "labelExpr": "datum.value < 0 ? '-' + format(-datum.value, '.1f') : format(datum.value, '.1f')", "title": "I/µA"}},
        "color": {"field": "s", "type": "nominal", "scale": {"domain": ["a","b","c","d","e"], "range": ["#111111","#f01414","#22d822","#1a1aec","#1ee6f8"]}, "legend": null},
        "order": {"field": "o", "type": "quantitative"}
       }},
      {"data": {"name": "lblA"}, "mark": {"type": "text", "font": "Liberation Serif", "fontSize": 20, "fontWeight": "bold", "color": "#000"},
       "encoding": {
        "x": {"field": "E", "type": "quantitative", "scale": {"domain": [-0.3, 0.6], "reverse": true, "nice": false, "zero": false}},
        "y": {"field": "I", "type": "quantitative", "scale": {"domain": [-1.6, 0.6], "nice": false, "zero": false}},
        "text": {"field": "t"}
       }}
    ]},
    {"layer": [
      {"data": {"name": "inA"}, "mark": {"type": "line", "strokeWidth": 1},
       "encoding": {
        "x": {"field": "pH", "type": "quantitative", "scale": {"domain": [0.82, 5.46], "range": [163.5, 261.5], "nice": false, "zero": false},
              "axis": {"orient": "bottom", "offset": -25.3, "values": [1.2, 2.4, 3.6], "format": ".1f", "title": "PH", "labelFontSize": 11, "titleFontSize": 11, "tickSize": 3, "tickWidth": 1, "domainWidth": 1, "labelPadding": 1, "titlePadding": 1, "domainColor": "#666", "tickColor": "#666"}},
        "y": {"field": "I", "type": "quantitative", "scale": {"domain": [-0.276, 0.36], "range": [177.7, 94.4], "nice": false, "zero": false},
              "axis": {"orient": "left", "offset": -163.5, "values": [0.2, 0, -0.2], "labelExpr": "datum.value < 0 ? '-' + format(-datum.value, '.1f') : format(datum.value, '.1f')", "title": "I/µA", "labelFontSize": 11, "titleFontSize": 11, "tickSize": 3, "tickWidth": 1, "domainWidth": 1, "labelPadding": 1, "titlePadding": 2, "domainColor": "#666", "tickColor": "#666"}},
        "stroke": {"field": "s", "type": "nominal", "scale": {"domain": ["r","k","b"], "range": ["#ff3030","#444444","#3535f0"]}, "legend": null}
       }},
      {"data": {"name": "inA"}, "mark": {"type": "point", "filled": true, "size": 6, "color": "#222"},
       "encoding": {"x": {"field": "pH", "type": "quantitative"}, "y": {"field": "I", "type": "quantitative"}}},
      {"data": {"name": "tA"}, "mark": {"type": "text", "font": "Liberation Serif", "fontSize": 13, "fontWeight": "bold", "color": "#000"},
       "encoding": {"x": {"field": "pH", "type": "quantitative"}, "y": {"field": "I", "type": "quantitative"}, "text": {"field": "t"}}}
    ]}
   ],
   "resolve": {"scale": {"x": "independent", "y": "independent"}}
  },
  {"width": 285, "height": 202,
   "layer": [
    {"layer": [
      {"data": {"name": "cvB"}, "mark": {"type": "line", "interpolate": "catmull-rom", "strokeWidth": 2.3, "clip": true},
       "encoding": {
        "x": {"field": "E", "type": "quantitative", "scale": {"domain": [-0.4, 0.6], "reverse": true, "nice": false, "zero": false},
              "axis": {"values": [0.6, 0.3, 0, -0.3], "labelExpr": "datum.value < 0 ? '-' + format(-datum.value, '.1f') : format(datum.value, '.1f')", "title": "E/V vs Ag/AgCl", "titleX": 123}},
        "y": {"field": "I", "type": "quantitative", "scale": {"domain": [-2.5, 1], "nice": false, "zero": false},
              "axis": {"values": [1, 0, -1, -2], "labelExpr": "datum.value < 0 ? '-' + format(-datum.value, '.0f') : format(datum.value, '.0f')", "title": "I/µA"}},
        "color": {"field": "s", "type": "nominal", "scale": {"domain": ["a","b","c","d","e"], "range": ["#111111","#f01414","#22d822","#1a1aec","#1ee6f8"]}, "legend": null},
        "order": {"field": "o", "type": "quantitative"}
       }},
      {"data": {"name": "lblB"}, "mark": {"type": "text", "font": "Liberation Serif", "fontSize": 20, "fontWeight": "bold", "color": "#000"},
       "encoding": {
        "x": {"field": "E", "type": "quantitative", "scale": {"domain": [-0.4, 0.6], "reverse": true, "nice": false, "zero": false}},
        "y": {"field": "I", "type": "quantitative", "scale": {"domain": [-2.5, 1], "nice": false, "zero": false}},
        "text": {"field": "t"}
       }}
    ]},
    {"layer": [
      {"data": {"name": "inB"}, "mark": {"type": "line", "strokeWidth": 1},
       "encoding": {
        "x": {"field": "pH", "type": "quantitative", "scale": {"domain": [0.864, 4.36], "range": [181.3, 285], "nice": false, "zero": false},
              "axis": {"orient": "bottom", "offset": -24.7, "values": [1.2, 2.4, 3.6], "format": ".1f", "title": "PH", "labelFontSize": 11, "titleFontSize": 11, "tickSize": 3, "tickWidth": 1, "domainWidth": 1, "labelPadding": 1, "titlePadding": 1, "domainColor": "#666", "tickColor": "#666"}},
        "y": {"field": "I", "type": "quantitative", "scale": {"domain": [-0.318, 0.34], "range": [177.3, 95], "nice": false, "zero": false},
              "axis": {"orient": "left", "offset": -181.3, "values": [0.3, 0, -0.3], "labelExpr": "datum.value < 0 ? '-' + format(-datum.value, '.1f') : format(datum.value, '.1f')", "title": "I/µA", "labelFontSize": 11, "titleFontSize": 11, "tickSize": 3, "tickWidth": 1, "domainWidth": 1, "labelPadding": 1, "titlePadding": 2, "domainColor": "#666", "tickColor": "#666"}},
        "stroke": {"field": "s", "type": "nominal", "scale": {"domain": ["r","k","b"], "range": ["#ff3030","#444444","#3535f0"]}, "legend": null}
       }},
      {"data": {"name": "inB"}, "mark": {"type": "point", "filled": true, "size": 6, "color": "#222"},
       "encoding": {"x": {"field": "pH", "type": "quantitative"}, "y": {"field": "I", "type": "quantitative"}}},
      {"data": {"name": "tB"}, "mark": {"type": "text", "font": "Liberation Serif", "fontSize": 13, "fontWeight": "bold", "color": "#000"},
       "encoding": {"x": {"field": "pH", "type": "quantitative"}, "y": {"field": "I", "type": "quantitative"}, "text": {"field": "t"}}}
    ]}
   ],
   "resolve": {"scale": {"x": "independent", "y": "independent"}}
  }
 ], "spacing": 20},
 {"hconcat": [
  {"width": 91, "height": 10, "data": {"values": [{"v": 0}]}, "mark": {"type": "point", "opacity": 0}},
  {"width": 258, "height": 205,
   "layer": [
    {"layer": [
      {"data": {"name": "cvC"}, "mark": {"type": "line", "interpolate": "catmull-rom", "strokeWidth": 2.3, "clip": true},
       "encoding": {
        "x": {"field": "E", "type": "quantitative", "scale": {"domain": [-0.4, 0.6], "reverse": true, "nice": false, "zero": false},
              "axis": {"values": [0.4, 0, -0.4], "labelExpr": "datum.value < 0 ? '-' + format(-datum.value, '.1f') : format(datum.value, '.1f')", "title": "E/V vs Ag/AgCl", "titleX": 110}},
        "y": {"field": "I", "type": "quantitative", "scale": {"domain": [-3.6, 2.0], "nice": false, "zero": false},
              "axis": {"values": [1.4, 0, -1.4, -2.8], "labelExpr": "datum.value < 0 ? '-' + format(-datum.value, '.1f') : format(datum.value, '.1f')", "title": "I/µA"}},
        "color": {"field": "s", "type": "nominal", "scale": {"domain": ["a","b","c","d","e"], "range": ["#111111","#f01414","#22d822","#1a1aec","#1ee6f8"]}, "legend": null},
        "order": {"field": "o", "type": "quantitative"}
       }},
      {"data": {"name": "lblC"}, "mark": {"type": "text", "font": "Liberation Serif", "fontSize": 20, "fontWeight": "bold", "color": "#000"},
       "encoding": {
        "x": {"field": "E", "type": "quantitative", "scale": {"domain": [-0.4, 0.6], "reverse": true, "nice": false, "zero": false}},
        "y": {"field": "I", "type": "quantitative", "scale": {"domain": [-3.6, 2.0], "nice": false, "zero": false}},
        "text": {"field": "t"}
       }}
    ]},
    {"layer": [
      {"data": {"name": "inC"}, "mark": {"type": "line", "strokeWidth": 1},
       "encoding": {
        "x": {"field": "pH", "type": "quantitative", "scale": {"domain": [0.86, 4.56], "range": [176.7, 260], "nice": false, "zero": false},
              "axis": {"orient": "bottom", "offset": -29, "values": [1.2, 2.4, 3.6], "format": ".1f", "title": "PH", "labelFontSize": 11, "titleFontSize": 11, "tickSize": 3, "tickWidth": 1, "domainWidth": 1, "labelPadding": 1, "titlePadding": 1, "domainColor": "#666", "tickColor": "#666"}},
        "y": {"field": "I", "type": "quantitative", "scale": {"domain": [-0.308, 0.327], "range": [176, 98.4], "nice": false, "zero": false},
              "axis": {"orient": "left", "offset": -176.7, "values": [0.3, 0, -0.3], "labelExpr": "datum.value < 0 ? '-' + format(-datum.value, '.1f') : format(datum.value, '.1f')", "title": "I/µA", "labelFontSize": 11, "titleFontSize": 11, "tickSize": 3, "tickWidth": 1, "domainWidth": 1, "labelPadding": 1, "titlePadding": 2, "domainColor": "#666", "tickColor": "#666"}},
        "stroke": {"field": "s", "type": "nominal", "scale": {"domain": ["r","k","b"], "range": ["#ff3030","#444444","#3535f0"]}, "legend": null}
       }},
      {"data": {"name": "inC"}, "mark": {"type": "point", "filled": true, "size": 6, "color": "#222"},
       "encoding": {"x": {"field": "pH", "type": "quantitative"}, "y": {"field": "I", "type": "quantitative"}}},
      {"data": {"name": "tC"}, "mark": {"type": "text", "font": "Liberation Serif", "fontSize": 13, "fontWeight": "bold", "color": "#000"},
       "encoding": {"x": {"field": "pH", "type": "quantitative"}, "y": {"field": "I", "type": "quantitative"}, "text": {"field": "t"}}}
    ]}
   ],
   "resolve": {"scale": {"x": "independent", "y": "independent"}}
  }
 ], "spacing": 0}
]
}
